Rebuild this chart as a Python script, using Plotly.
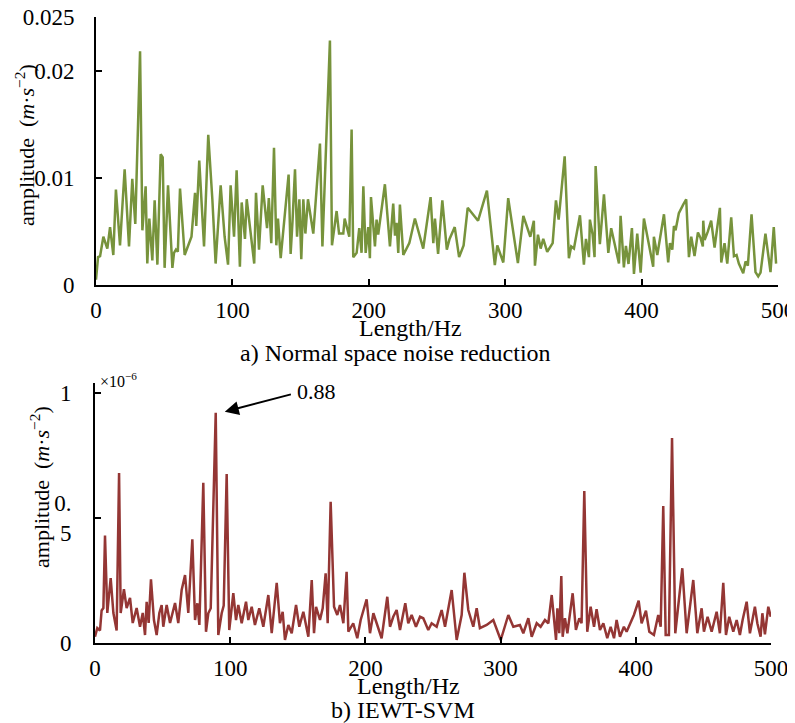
import plotly.graph_objects as go

# ---------------- data ----------------
# a) Normal space noise reduction  (amplitude in m*s^-2, values in 1e-3)
top_hz = [0, 1.5, 3, 5.4, 8.3, 10.3, 12.7, 14.6, 17.6, 21, 24.2, 26.6, 28.8, 32.3, 34, 36.4, 37.6, 39.1,
          41.3, 43, 45, 47.4, 48.9, 50.3, 52.8, 56, 57.2, 58.6, 60, 61.6, 65, 70, 72.6, 73.5, 75.7, 79.2,
          82.3, 85.3, 87.7, 91.4, 94.3, 96.8, 98.7, 101.2, 103.1, 105.5, 106.8, 109.2, 110.5, 112.9, 116,
          117.3, 119.5, 122.2, 125.4, 126.7, 128.5, 130.5, 132.2, 133.4, 135.4, 141.2, 142.7, 144.1, 145.9,
          147.4, 149.1, 150.5, 152, 153.5, 155.4, 159.3, 164.2, 166, 171.5, 173, 176.4, 178.2, 181.3, 182.3,
          185.7, 187.4, 188.6, 191.1, 193, 194.7, 196, 197.7, 199.6, 200.8, 201.6, 204.5, 205.7, 206.9,
          211.8, 215.5, 217.9, 219.2, 220.4, 221.6, 222.8, 225.3, 229.7, 233.8, 239.9, 245.3, 247.3, 248.5,
          250.8, 253.9, 257.2, 259.2, 263, 266.2, 269.5, 272.5, 280.1, 286.6, 292.4, 294.2, 298.6, 302.2,
          309.3, 313.3, 318.4, 321, 321.8, 324, 326, 327.9, 330.8, 334.8, 337.2, 339.2, 343.6, 346.7, 348.4,
          350.4, 354.8, 357.7, 359.2, 361.4, 362.1, 364.1, 365.5, 366.3, 369.4, 372.4, 375.6, 377.7, 383.4,
          384.6, 387, 388.5, 390.4, 392.9, 394.4, 396.8, 399.3, 401.7, 408.5, 409, 411.5, 416.4, 419.5,
          420.8, 422.5, 423.7, 424.9, 427.3, 429.1, 430.5, 432.7, 434.7, 436.4, 438.8, 441.3, 443.2, 444.9,
          445.2, 446.2, 448.6, 451, 453.5, 457.4, 458.4, 460.8, 462.8, 465.7, 467.7, 469.6, 471.3, 474.5,
          476.2, 477.9, 480.6, 483.5, 485.5, 487.2, 490.8, 494.5, 496.9, 498.6]
top_amp_milli = [0.5, 2.6, 2.7, 4.5, 3.4, 5.4, 2.8, 8.9, 3.7, 10.8, 3.6, 9.9, 5.7, 21.8, 5.1, 9.2, 2.0, 6.2,
                 2.3, 7.9, 1.9, 12.2, 11.9, 1.6, 9.3, 1.6, 3.0, 3.3, 3.1, 9.0, 2.8, 4.5, 8.6, 5.5, 11.6, 3.6,
                 14.0, 8.0, 2.0, 9.3, 4.5, 1.9, 9.3, 4.5, 10.7, 1.7, 7.7, 4.3, 8.0, 5.5, 2.0,
                 8.6, 3.3, 9.3, 5.3, 8.1, 3.9, 12.8, 3.7, 6.2, 2.5, 10.3, 2.9, 6.0, 10.8,
                 4.5, 8.0, 2.4, 8.0, 4.8, 8.0, 4.8, 13.2, 3.6, 22.8, 3.7, 6.9, 4.8, 4.8, 6.2,
                 4.5, 14.5, 2.6, 3.0, 5.3, 3.0, 9.2, 3.0, 5.4, 2.5, 8.2, 3.6, 6.1, 4.7,
                 9.4, 3.6, 7.6, 4.6, 5.8, 3.0, 7.5, 2.8, 3.9, 6.2, 3.4, 8.2, 3.9, 6.2,
                 2.9, 7.9, 3.3, 4.3, 5.4, 2.6, 3.7, 7.2, 6.0, 8.8, 1.85, 3.7, 2.1, 8.1,
                 2.05, 6.45, 4.5, 6.0, 1.8, 4.7, 3.4, 4.3, 3.1, 3.9, 7.9, 6.1, 12.0, 2.5, 3.6,
                 3.4, 6.5, 1.9, 4.3, 2.6, 6.1, 4.7, 2.6, 11.1, 3.8, 8.45, 3.0, 5.3, 2.0,
                 6.45, 1.65, 3.65, 1.96, 5.3, 1.03, 4.8, 1.15, 6.2, 1.7, 4.5, 2.8, 6.6, 2.1,
                 3.9, 3.3, 5.5, 5.1, 6.7, 7.2, 7.5, 8.0, 2.6, 4.5, 2.7, 4.9, 4.4, 3.6,
                 6.0, 4.2, 5.0, 6.0, 3.5, 7.2, 2.1, 3.9, 2.0, 6.3, 2.7, 2.8, 2.0, 1.1,
                 2.2, 1.8, 6.6, 1.2, 0.8, 1.15, 4.8, 1.2, 5.4, 2.0]
top_amp = [v * 1e-3 for v in top_amp_milli]

# b) IEWT-SVM  (amplitude in units of 1e-6 m*s^-2)
bot_hz = [0, 1.7, 3.7, 4.9, 6.2, 7.4, 9.1, 11.6, 13.6, 16, 17.8, 19, 21.4, 23.4, 25.9, 27.9, 30.8, 33.3,
          35.3, 37, 38.2, 39.7, 41.4, 43.6, 45.6, 47.6, 49.3, 50.5, 53, 55.5, 59.2, 61.6, 64.1, 66.6, 69,
          72, 74, 75.7, 77.2, 80.1, 82.1, 83.8, 85.6, 89.3, 91.2, 93.7, 95.2, 97.4, 99.3, 101.1, 102.3,
          104.3, 106, 108.5, 111.7, 113.4, 115.9, 118.3, 121.5, 124.5, 128.2, 130.7, 134.4, 136.8, 138.8,
          140.5, 143, 145.5, 148.7, 151.1, 154.1, 157.8, 160.3, 162, 163.5, 166.4, 168.4, 170.6, 172.1,
          174.3, 176.8, 179.2, 181.2, 183.7, 186.1, 187.4, 191, 194, 196.5, 200.9, 203.4, 205.9, 208.3,
          212, 216.2, 218.2, 220.6, 223.1, 225.6, 229.5, 231.7, 234.2, 237.4, 240.4, 242.8, 246.5, 249,
          252.7, 256.4, 258.9, 263.8, 267.5, 271.2, 273.2, 276.1, 279.8, 282.3, 284.7, 289.7, 294.6,
          300.1, 305.7, 309.4, 314.3, 316.8, 320.5, 323, 326.7, 329.6, 332.8, 335.3, 337.8, 341, 342,
          343.4, 344.9, 345.9, 347.6, 349.4, 351.3, 353.3, 355.7, 358.2, 359.9, 361.9, 364.1, 366.6,
          369.1, 371, 373.5, 376, 378.9, 381.4, 383.9, 385.8, 388.3, 391.2, 393.2, 396.2, 398.6, 402.1,
          404.3, 407.5, 410, 413.4, 416.6, 418.4, 420.3, 422.1, 424.5, 426.8, 429.2, 434.4, 437.6, 442.5,
          445.5, 448.7, 450.4, 453.1, 456.1, 459.8, 462.2, 464.7, 466.7, 469.1, 472.1, 474.6, 477, 479,
          482, 484.4, 488.1, 489.9, 492.3, 493.6, 495.5, 498, 499.8]
bot_amp = [0.025, 0.06, 0.05, 0.13, 0.14, 0.43, 0.12, 0.26, 0.12, 0.05, 0.68, 0.12, 0.215, 0.14, 0.18,
           0.08, 0.14, 0.065, 0.12, 0.032, 0.165, 0.08, 0.255, 0.092, 0.032, 0.12, 0.152, 0.065, 0.152,
           0.08, 0.16, 0.08, 0.212, 0.272, 0.12, 0.415, 0.092, 0.159, 0.072, 0.641, 0.045, 0.119, 0.139,
           0.921, 0.032, 0.119, 0.15, 0.676, 0.052, 0.139, 0.199, 0.092, 0.152, 0.079, 0.165, 0.092,
           0.145, 0.072, 0.139, 0.065, 0.192, 0.039, 0.241, 0.079, 0.125, 0.012, 0.072, 0.039, 0.152,
           0.065, 0.125, 0.025, 0.252, 0.039, 0.145, 0.092, 0.139, 0.279, 0.079, 0.565, 0.145, 0.112,
           0.152, 0.079, 0.285, 0.045, 0.079, 0.019, 0.092, 0.175, 0.039, 0.119, 0.079, 0.019, 0.185,
           0.065, 0.105, 0.132, 0.052, 0.159, 0.079, 0.112, 0.065, 0.105, 0.099, 0.052, 0.079, 0.065,
           0.132, 0.065, 0.212, 0.012, 0.112, 0.281, 0.132, 0.065, 0.139, 0.059, 0.072, 0.092, 0.012,
           0.112, 0.065, 0.072, 0.039, 0.099, 0.025, 0.079, 0.065, 0.092, 0.079, 0.192, 0.012, 0.139,
           0.039, 0.268, 0.025, 0.099, 0.039, 0.119, 0.199, 0.052, 0.099, 0.079, 0.608, 0.045, 0.145,
           0.065, 0.135, 0.052, 0.079, 0.019, 0.065, 0.019, 0.092, 0.025, 0.065, 0.045, 0.079, 0.112,
           0.169, 0.079, 0.129, 0.045, 0.032, 0.112, 0.065, 0.548, 0.032, 0.032, 0.82, 0.039, 0.299,
           0.039, 0.252, 0.039, 0.139, 0.045, 0.105, 0.045, 0.125, 0.039, 0.241, 0.032, 0.105, 0.045,
           0.092, 0.032, 0.092, 0.165, 0.039, 0.145, 0.079, 0.025, 0.119, 0.035, 0.145, 0.105]

x_ticks = [0, 100, 200, 300, 400, 500]
top_y_ticks = [0, 0.01, 0.02, 0.025]
top_y_text = ["0", "0.01", "0.02", "0.025"]
bot_y_ticks = [0, 0.5, 1]
bot_y_text = ["0", "0.<br>5", "1"]
peak_label = "0.88"

# ---------------- figure ----------------
FONT = "Liberation Serif, Times New Roman, serif"
OFF = 8                      # page body margin of the browser
W, H = 795 - OFF, 723 - OFF
TICK_SIZE = 23
TITLE_SIZE = 24
YTITLE_SIZE = 22


def px_x(p):
    return (p - OFF) / W


def px_y(p):
    return 1 - (p - OFF) / H


fig = go.Figure()
fig.add_trace(go.Scatter(x=top_hz, y=top_amp, mode="lines",
                         line=dict(color="#77933C", width=2.5), xaxis="x", yaxis="y",
                         showlegend=False, hoverinfo="skip"))
fig.add_trace(go.Scatter(x=bot_hz, y=bot_amp, mode="lines",
                         line=dict(color="#943634", width=2.5), xaxis="x2", yaxis="y2",
                         showlegend=False, hoverinfo="skip"))

axis_common = dict(showgrid=False, zeroline=False, showline=True, linecolor="black", linewidth=2,
                   ticks="inside", ticklen=6, tickwidth=2, tickcolor="black", automargin=False,
                   ticklabeloverflow="allow",
                   tickfont=dict(family=FONT, size=TICK_SIZE, color="black"))

fig.update_layout(
    width=W, height=H, margin=dict(l=0, r=0, t=0, b=0, autoexpand=False),
    paper_bgcolor="white", plot_bgcolor="white",
    font=dict(family=FONT, size=TITLE_SIZE, color="black"),
    xaxis=dict(domain=[px_x(96), px_x(778)], range=[0, 500], anchor="y",
               tickvals=x_ticks, ticklabelstandoff=3, **axis_common),
    yaxis=dict(domain=[px_y(285), px_y(17)], range=[0, 0.025], anchor="x",
               tickvals=top_y_ticks, ticktext=top_y_text, ticklabelstandoff=15, **axis_common),
    xaxis2=dict(domain=[px_x(95), px_x(771)], range=[0, 500], anchor="y2",
                tickvals=x_ticks, ticklabelstandoff=3, **axis_common),
    yaxis2=dict(domain=[px_y(643), px_y(383)], range=[0, 1.04], anchor="x2",
                tickvals=bot_y_ticks, ticktext=bot_y_text, ticklabelstandoff=17, **axis_common),
)

ann = []
# axis titles & captions
ann.append(dict(text="Length/Hz", x=px_x(410), y=px_y(328), xref="paper", yref="paper",
                xanchor="center", yanchor="middle", showarrow=False, font=dict(size=TITLE_SIZE)))
ann.append(dict(text="a) Normal space noise reduction", x=px_x(395), y=px_y(353), xref="paper",
                yref="paper", xanchor="center", yanchor="middle", showarrow=False,
                font=dict(size=TITLE_SIZE)))
ann.append(dict(text="Length/Hz", x=px_x(408), y=px_y(686), xref="paper", yref="paper",
                xanchor="center", yanchor="middle", showarrow=False, font=dict(size=TITLE_SIZE)))
ann.append(dict(text="b) IEWT-SVM", x=px_x(403), y=px_y(710), xref="paper", yref="paper",
                xanchor="center", yanchor="middle", showarrow=False, font=dict(size=TITLE_SIZE)))
ytitle = "amplitude  (<i>m</i>·<i>s</i><sup>−2</sup>)"
ann.append(dict(text=ytitle, x=px_x(25), y=px_y(145), xref="paper", yref="paper", textangle=-90,
                xanchor="center", yanchor="middle", showarrow=False, font=dict(size=YTITLE_SIZE)))
ann.append(dict(text=ytitle, x=px_x(40), y=px_y(487), xref="paper", yref="paper", textangle=-90,
                xanchor="center", yanchor="middle", showarrow=False, font=dict(size=YTITLE_SIZE)))
ann.append(dict(text="×10<sup>−6</sup>", x=px_x(98), y=px_y(380), xref="paper", yref="paper",
                xanchor="left", yanchor="middle", showarrow=False, font=dict(size=16)))
# arrow to the peak
ann.append(dict(text="", x=96, y=0.925, xref="x2", yref="y2", ax=146, ay=0.996, axref="x2", ayref="y2",
                showarrow=True, arrowhead=2, arrowsize=1.4, arrowwidth=2, arrowcolor="black"))
ann.append(dict(text=peak_label, x=148, y=1.008, xref="x2", yref="y2", xanchor="left",
                yanchor="middle", showarrow=False, font=dict(size=22)))
fig.update_layout(annotations=ann)

fig.write_html("out.html")
